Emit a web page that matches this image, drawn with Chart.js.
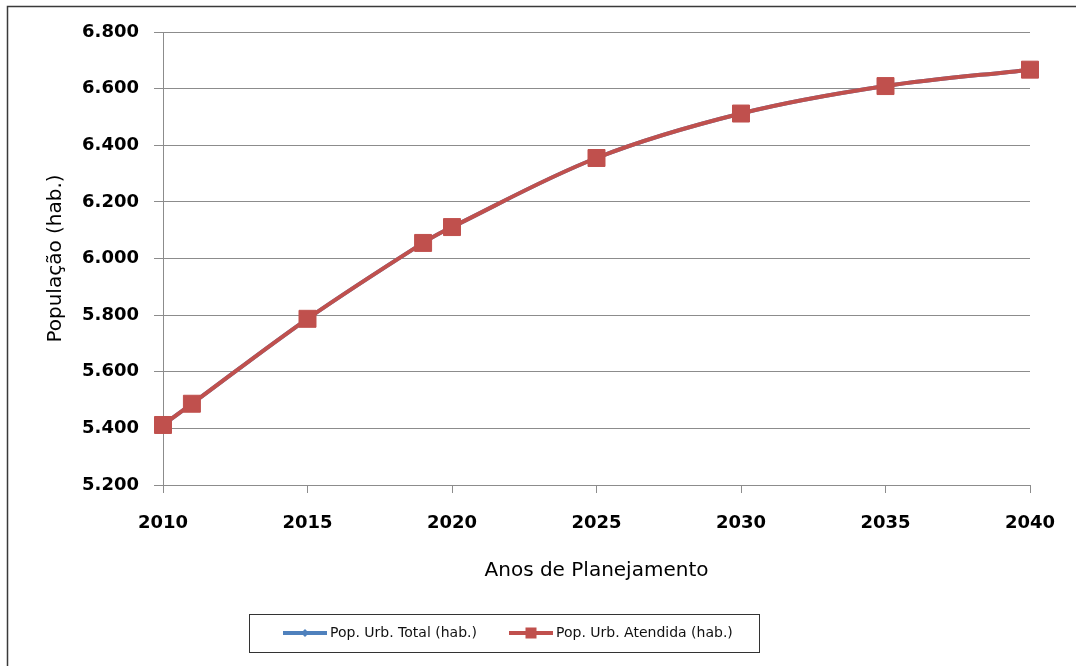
<!DOCTYPE html>
<html>
<head>
<meta charset="utf-8">
<script src="https://cdn.jsdelivr.net/npm/chart.js@4"></script>
<style>
  html, body { margin: 0; padding: 0; background: #fff; }
  #chart { display: block; }
</style>
</head>
<body>
<canvas id="chart" width="1076" height="666"></canvas>
<script>
const years = [2010, 2011, 2015, 2019, 2020, 2025, 2030, 2035, 2040]
const popTotal = [5412, 5487, 5787, 6055, 6111, 6355, 6512, 6609, 6667]
const popAtendida = [5412, 5487, 5787, 6055, 6111, 6355, 6512, 6609, 6667]
const seriesNames = ["Pop. Urb. Total (hab.)", "Pop. Urb. Atendida (hab.)"]
const xTitle = "Anos de Planejamento"
const yTitle = "População (hab.)"

const FONT = "'DejaVu Sans', 'Noto Sans', sans-serif"
const GRID = "#8c8c8c"

const fmt = v => String(v).replace(/\B(?=(\d{3})+(?!\d))/g, ".")

// outer frame of the picture
const framePlugin = {
  id: "frame",
  beforeDraw(chart) {
    const ctx = chart.ctx
    ctx.save()
    ctx.strokeStyle = "#3a3a3a"
    ctx.lineWidth = 1.5
    ctx.strokeRect(7.5, 6.5, 2000, 2000)
    ctx.restore()
  }
}

// boxed legend under the axis title
const legendPlugin = {
  id: "boxLegend",
  afterDraw(chart) {
    const ctx = chart.ctx
    ctx.save()
    ctx.strokeStyle = "#333"
    ctx.lineWidth = 1
    ctx.strokeRect(249.5, 614.5, 510, 38)

    const y = 633
    const starts = [283, 509]
    chart.data.datasets.forEach((ds, i) => {
      const x0 = starts[i]
      ctx.strokeStyle = ds.borderColor
      ctx.lineWidth = 4
      ctx.beginPath()
      ctx.moveTo(x0, y)
      ctx.lineTo(x0 + 44, y)
      ctx.stroke()
      ctx.fillStyle = ds.pointBackgroundColor
      if (ds.pointStyle === "rect") {
        ctx.fillRect(x0 + 22 - 5.5, y - 5.5, 11, 11)
      } else {
        ctx.beginPath()
        ctx.moveTo(x0 + 22, y - 4)
        ctx.lineTo(x0 + 26, y)
        ctx.lineTo(x0 + 22, y + 4)
        ctx.lineTo(x0 + 18, y)
        ctx.closePath()
        ctx.fill()
      }
      ctx.fillStyle = "#111"
      ctx.font = "14px " + FONT
      ctx.textAlign = "left"
      ctx.textBaseline = "middle"
      ctx.fillText(ds.label, x0 + 47, y)
    })
    ctx.restore()
  }
}

const ctx = document.getElementById("chart").getContext("2d")
new Chart(ctx, {
  type: "line",
  data: {
    datasets: [
      {
        label: seriesNames[0],
        data: years.map((yr, i) => ({ x: yr, y: popTotal[i] })),
        order: 2,
        clip: false,
        borderColor: "#4F81BD",
        backgroundColor: "#4F81BD",
        pointBackgroundColor: "#4F81BD",
        pointBorderColor: "#4F81BD",
        borderWidth: 4,
        pointStyle: "rectRot",
        pointRadius: 5,
        tension: 0.35,
        fill: false
      },
      {
        label: seriesNames[1],
        data: years.map((yr, i) => ({ x: yr, y: popAtendida[i] })),
        order: 1,
        clip: false,
        borderColor: "#C0504D",
        backgroundColor: "#C0504D",
        pointBackgroundColor: "#C0504D",
        pointBorderColor: "#C0504D",
        borderWidth: 4,
        pointStyle: "rect",
        pointRadius: 12,
        pointBorderWidth: 1,
        tension: 0.35,
        fill: false
      }
    ]
  },
  options: {
    responsive: false,
    animation: false,
    devicePixelRatio: 1,
    layout: { padding: { top: 32, right: 46, bottom: 79, left: 40 } },
    scales: {
      x: {
        type: "linear",
        min: 2010,
        max: 2040,
        afterFit: s => { s.height = 102 },
        ticks: {
          stepSize: 5,
          padding: 20,
          color: "#000",
          font: { family: FONT, size: 18, weight: "bold" },
          callback: v => String(v)
        },
        grid: { drawOnChartArea: false, drawTicks: true, tickLength: 8, color: GRID },
        border: { color: GRID },
        title: {
          display: true,
          text: xTitle,
          color: "#000",
          font: { family: FONT, size: 20 }
        }
      },
      y: {
        min: 5200,
        max: 6800,
        afterFit: s => { s.width = 123 },
        ticks: {
          stepSize: 200,
          padding: 15,
          color: "#000",
          font: { family: FONT, size: 18, weight: "bold" },
          callback: v => fmt(v)
        },
        grid: { color: GRID, tickLength: 9 },
        border: { color: GRID },
        title: {
          display: true,
          text: yTitle,
          color: "#000",
          font: { family: FONT, size: 20 }
        }
      }
    },
    plugins: {
      legend: { display: false },
      tooltip: { enabled: false }
    }
  },
  plugins: [framePlugin, legendPlugin]
})
</script>
</body>
</html>
